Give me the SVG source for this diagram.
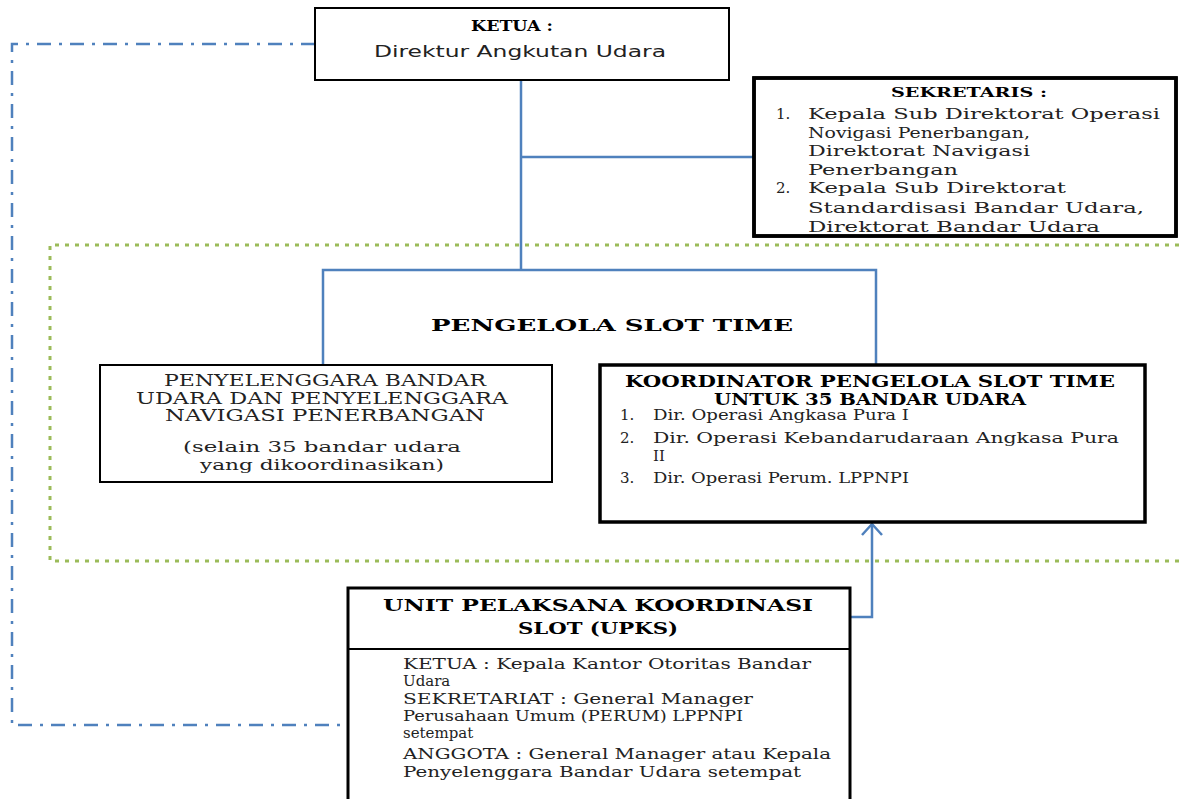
<svg xmlns="http://www.w3.org/2000/svg" width="1179" height="799" viewBox="0 0 1179 799">
<defs>
<style>
.box{fill:#fff;stroke:#000;stroke-width:2}
.thick{fill:#fff;stroke:#000;stroke-width:3.5}
.conn{fill:none;stroke:#4f81bd;stroke-width:2.5}
.dashdot{fill:none;stroke:#4f81bd;stroke-width:2.5;stroke-dasharray:14 8 3 8}
.green{fill:none;stroke:#9bbb59;stroke-width:3;stroke-dasharray:4 6}
.h{font-family:"DejaVu Serif","Liberation Serif",serif;font-weight:bold;fill:#000}
.t{font-family:"DejaVu Serif","Liberation Serif",serif;fill:#222}
.s{font-family:"DejaVu Sans","Liberation Sans",sans-serif;fill:#222}
.sm{font-family:"DejaVu Serif","Liberation Serif",serif;fill:#222;font-size:15px}
</style>
<marker id="arr" viewBox="0 0 14 22" refX="12" refY="11" markerWidth="14" markerHeight="22" markerUnits="userSpaceOnUse" orient="auto">
<path d="M1,1 L12,11 L1,21" fill="none" stroke="#4f81bd" stroke-width="2.5"/>
</marker>
</defs>
<rect width="1179" height="799" fill="#fff"/>

<g id="frame-pengelola">
<path class="green" d="M1179,245 H50 V561 H1179"/>
</g>

<g id="connectors">
<path class="dashdot" d="M315,44 H12 V725 H347"/>
<path class="conn" d="M521,80 V270"/>
<path class="conn" d="M521,157 H753"/>
<path class="conn" d="M323,365 V270 H876 V364"/>
<path class="conn" d="M850,617 H872 V524" marker-end="url(#arr)"/>
</g>

<g id="ketua">
<rect class="box" x="315" y="8" width="414" height="72"/>
<text class="h" x="512" y="31" font-size="14" text-anchor="middle" textLength="82" lengthAdjust="spacingAndGlyphs">KETUA :</text>
<text class="s" x="520" y="57" font-size="16" text-anchor="middle" textLength="292" lengthAdjust="spacingAndGlyphs">Direktur Angkutan Udara</text>
</g>

<g id="sekretaris">
<rect class="thick" x="754" y="78" width="422" height="158"/>
<text class="h" x="969" y="97" font-size="13" text-anchor="middle" textLength="156" lengthAdjust="spacingAndGlyphs">SEKRETARIS :</text>
<text class="sm" x="776" y="119">1.</text>
<text class="sm" x="776" y="193">2.</text>
<g class="t" font-size="15">
<text x="808" y="119" textLength="352" lengthAdjust="spacingAndGlyphs">Kepala Sub Direktorat Operasi</text>
<text x="808" y="138" textLength="222" lengthAdjust="spacingAndGlyphs">Novigasi Penerbangan,</text>
<text x="808" y="156" textLength="222" lengthAdjust="spacingAndGlyphs">Direktorat Navigasi</text>
<text x="808" y="175" textLength="150" lengthAdjust="spacingAndGlyphs">Penerbangan</text>
<text x="808" y="193" textLength="258" lengthAdjust="spacingAndGlyphs">Kepala Sub Direktorat</text>
<text x="808" y="213" textLength="336" lengthAdjust="spacingAndGlyphs">Standardisasi Bandar Udara,</text>
<text x="808" y="232" textLength="292" lengthAdjust="spacingAndGlyphs">Direktorat Bandar Udara</text>
</g>
<rect x="754" y="78" width="422" height="158" fill="none" stroke="#000" stroke-width="3.5"/>
</g>

<g id="pengelola-label">
<text class="h" x="612" y="331" font-size="17" text-anchor="middle" textLength="362" lengthAdjust="spacingAndGlyphs">PENGELOLA SLOT TIME</text>
</g>

<g id="penyelenggara">
<rect class="box" x="100" y="365" width="452" height="117"/>
<g class="t" font-size="16" text-anchor="middle">
<text x="325" y="386" textLength="322" lengthAdjust="spacingAndGlyphs">PENYELENGGARA BANDAR</text>
<text x="322" y="404" textLength="372" lengthAdjust="spacingAndGlyphs">UDARA DAN PENYELENGGARA</text>
<text x="325" y="421" textLength="320" lengthAdjust="spacingAndGlyphs">NAVIGASI PENERBANGAN</text>
<text x="322" y="452" font-size="15" textLength="278" lengthAdjust="spacingAndGlyphs">(selain 35 bandar udara</text>
<text x="322" y="470" font-size="15" textLength="244" lengthAdjust="spacingAndGlyphs">yang dikoordinasikan)</text>
</g>
</g>

<g id="koordinator">
<rect class="thick" x="600" y="365" width="545" height="157"/>
<text class="h" x="870" y="387" font-size="16" text-anchor="middle" textLength="490" lengthAdjust="spacingAndGlyphs">KOORDINATOR PENGELOLA SLOT TIME</text>
<text class="h" x="870" y="405" font-size="16" text-anchor="middle" textLength="312" lengthAdjust="spacingAndGlyphs">UNTUK 35 BANDAR UDARA</text>
<text class="sm" x="620" y="420">1.</text>
<text class="sm" x="620" y="443">2.</text>
<text class="sm" x="653" y="461">II</text>
<text class="sm" x="620" y="483">3.</text>
<g class="t" font-size="14">
<text x="653" y="420" textLength="256" lengthAdjust="spacingAndGlyphs">Dir. Operasi Angkasa Pura I</text>
<text x="653" y="443" textLength="466" lengthAdjust="spacingAndGlyphs">Dir. Operasi Kebandarudaraan Angkasa Pura</text>
<text x="653" y="483" textLength="256" lengthAdjust="spacingAndGlyphs">Dir. Operasi Perum. LPPNPI</text>
</g>
</g>

<g id="upks">
<rect x="348" y="588" width="502" height="230" fill="#fff" stroke="#000" stroke-width="3"/>
<line x1="348" y1="649" x2="850" y2="649" stroke="#000" stroke-width="2"/>
<text class="h" x="598" y="611" font-size="16" text-anchor="middle" textLength="430" lengthAdjust="spacingAndGlyphs">UNIT PELAKSANA KOORDINASI</text>
<text class="h" x="598" y="634" font-size="16" text-anchor="middle" textLength="160" lengthAdjust="spacingAndGlyphs">SLOT (UPKS)</text>
<text class="sm" x="403" y="686">Udara</text>
<text class="sm" x="403" y="738">setempat</text>
<g class="t" font-size="14">
<text x="403" y="669" textLength="408" lengthAdjust="spacingAndGlyphs">KETUA : Kepala Kantor Otoritas Bandar</text>
<text x="403" y="704" textLength="350" lengthAdjust="spacingAndGlyphs">SEKRETARIAT : General Manager</text>
<text x="403" y="721" textLength="340" lengthAdjust="spacingAndGlyphs">Perusahaan Umum (PERUM) LPPNPI</text>
<text x="403" y="759" textLength="428" lengthAdjust="spacingAndGlyphs">ANGGOTA : General Manager atau Kepala</text>
<text x="403" y="777" textLength="398" lengthAdjust="spacingAndGlyphs">Penyelenggara Bandar Udara setempat</text>
</g>
</g>
</svg>
